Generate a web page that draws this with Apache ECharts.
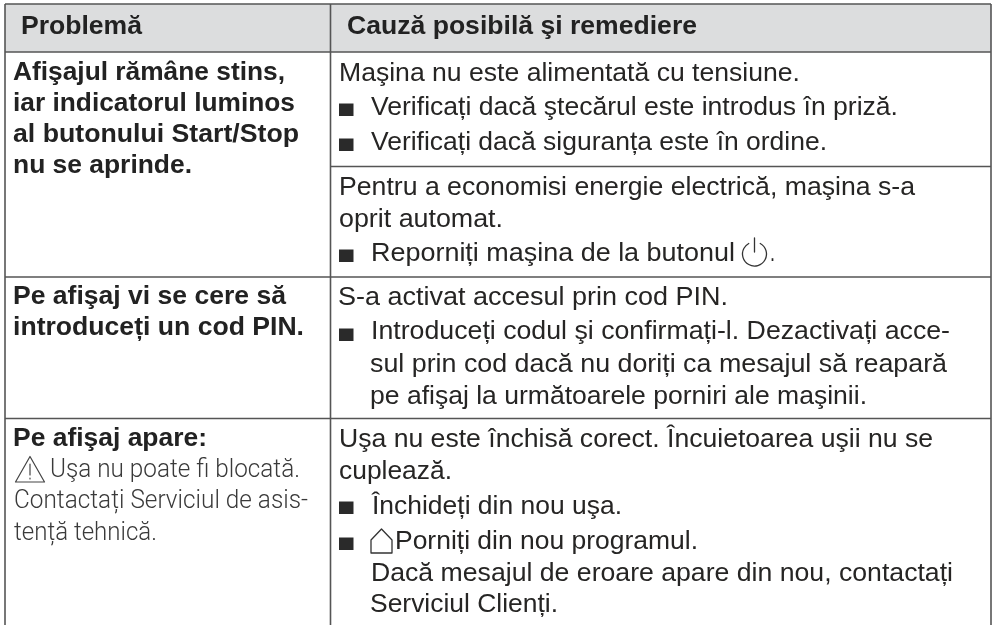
<!DOCTYPE html>
<html><head><meta charset="utf-8">
<style>html,body{margin:0;padding:0;background:#fff}#c{width:993px;height:625px}</style>
<script src="https://cdn.jsdelivr.net/npm/echarts@6/dist/echarts.min.js"></script>
</head><body><div id="c"></div>
<script>
var headers = ["Problemă", "Cauză posibilă şi remediere"];
var problemLines = ["Afişajul rămâne stins,", "iar indicatorul luminos", "al butonului Start/Stop", "nu se aprinde.",
  "Pe afişaj vi se cere să", "introduceți un cod PIN.", "Pe afişaj apare:"];
var messageLines = ["Uşa nu poate fi blocată.", "Contactați Serviciul de asis-", "tență tehnică."];
var causeLines = ["Maşina nu este alimentată cu tensiune.", "Verificați dacă ştecărul este introdus în priză.",
  "Verificați dacă siguranța este în ordine.", "Pentru a economisi energie electrică, maşina s-a", "oprit automat.",
  "Reporniți maşina de la butonul", ".", "S-a activat accesul prin cod PIN.",
  "Introduceți codul şi confirmați-l. Dezactivați acce-", "sul prin cod dacă nu doriți ca mesajul să reapară",
  "pe afişaj la următoarele porniri ale maşinii.", "Uşa nu este închisă corect. Încuietoarea uşii nu se", "cuplează.",
  "Închideți din nou uşa.", "Porniți din nou programul.", "Dacă mesajul de eroare apare din nou, contactați", "Serviciul Clienți."];

// layout lists: [xStart, baseline, xEnd]
var headerPos = [[21, 36, 142], [347, 36, 697]];
var problemPos = [[13,82,285],[13,113,295],[13,144,299],[13,175,192],[13,306,286],[13,337,304],[13,448,207]];
var messagePos = [[50,480,300],[14,511,308],[14,543,157]];
var causePos = [[339,82,800],[371,116,898],[371,151,827],[339,196,915],[339,228,503],[371,262,735],[770,262,775],
  [338,306,728],[371,340,950],[370,373,947],[370,405,867],[339,448,933],[339,480,452],[372,515,622],[395,550,698],[371,582,953],[370,613,558]];
var bulletPos = [[339,116],[339,151],[339,262],[339,341],[339,514],[339,550]];
var rules = [[5,4,991,4],[5,52,991,52],[5,4,5,625],[330.5,4,330.5,625],[991,4,991,625],[331,166.5,991,166.5],[5,277,991,277],[5,418.5,991,418.5]];
var headerBand = [5,4,991,52];

var ink = '#262524', mctx = document.createElement('canvas').getContext('2d');
function textItems(list, pos, size, weight, fam, color, lift) {
  return list.map(function (t, i) { return { t: t, p: pos[i], size: size, weight: weight, fam: fam, color: color, lift: lift }; });
}
var items = [].concat(
  textItems(headers, headerPos, 25, 'bold', 'Liberation Sans', '#222', 0.345),
  textItems(problemLines, problemPos, 25, 'bold', 'Liberation Sans', '#222', 0.345),
  textItems(messageLines, messagePos, 25, '300', 'Roboto', '#3a3a3a', 0.36),
  textItems(causeLines, causePos, 25, 'normal', 'Liberation Sans', ink, 0.31)
);

function renderText(params, api) {
  var it = items[api.value(0)];
  var font = it.weight + ' ' + it.size + 'px "' + it.fam + '"';
  mctx.font = font;
  var w = mctx.measureText(it.t).width;
  var a = api.coord([it.p[0], it.p[1]]), b = api.coord([it.p[2], it.p[1]]);
  return { type: 'text', x: a[0], y: a[1], scaleX: (b[0] - a[0]) / w, silent: true,
    style: { x: 0, y: -it.size * it.lift, text: it.t, font: font, fill: it.color, textAlign: 'left', verticalAlign: 'middle' } };
}
function renderRule(params, api) {
  var a = api.coord([api.value(0), api.value(1)]), b = api.coord([api.value(2), api.value(3)]);
  return { type: 'line', shape: { x1: a[0], y1: a[1], x2: b[0], y2: b[1] }, style: { stroke: '#555', lineWidth: 1.6 }, silent: true };
}
function renderBand(params, api) {
  var a = api.coord([api.value(0), api.value(1)]), b = api.coord([api.value(2), api.value(3)]);
  return { type: 'rect', shape: { x: a[0], y: a[1], width: b[0] - a[0], height: b[1] - a[1] }, style: { fill: '#dcddde' }, silent: true };
}
function renderBullet(params, api) {
  var a = api.coord([api.value(0), api.value(1)]);
  return { type: 'rect', shape: { x: a[0], y: a[1] - 12.5, width: 14.5, height: 12.5 }, style: { fill: '#2a2a2a' }, silent: true };
}
function renderIcons(params, api) {
  var s = { stroke: '#333', fill: null, lineWidth: 1.3, lineJoin: 'round', lineCap: 'round' };
  var w = { stroke: '#444', fill: null, lineWidth: 1.2, lineJoin: 'round', lineCap: 'round' };
  return { type: 'group', silent: true, children: [
    { type: 'polygon', shape: { points: [[30, 456.5], [44.5, 482], [15.5, 482]] }, style: w },
    { type: 'line', shape: { x1: 30, y1: 464, x2: 30, y2: 475 }, style: w },
    { type: 'line', shape: { x1: 30, y1: 478, x2: 30, y2: 479 }, style: w },
    { type: 'arc', shape: { cx: 754.5, cy: 254, r: 12, startAngle: -Math.PI / 2 + 0.5, endAngle: -Math.PI / 2 - 0.5, clockwise: true }, style: s },
    { type: 'line', shape: { x1: 754.5, y1: 238, x2: 754.5, y2: 252 }, style: s },
    { type: 'polygon', shape: { points: [[381.5, 529], [392, 540], [392, 553], [371, 553], [371, 540]] }, style: s }
  ] };
}
var chart = echarts.init(document.getElementById('c'), null, { renderer: 'canvas' });
chart.setOption({
  animation: false,
  backgroundColor: '#fff',
  grid: { left: 0, right: 0, top: 0, bottom: 0 },
  xAxis: { type: 'value', min: 0, max: 993, show: false },
  yAxis: { type: 'value', min: 0, max: 625, inverse: true, show: false },
  tooltip: { show: false },
  series: [
    { type: 'custom', coordinateSystem: 'cartesian2d', renderItem: renderBand, data: [headerBand], z: 1 },
    { type: 'custom', coordinateSystem: 'cartesian2d', renderItem: renderRule, data: rules, z: 2 },
    { type: 'custom', coordinateSystem: 'cartesian2d', renderItem: renderBullet, data: bulletPos, z: 3 },
    { type: 'custom', coordinateSystem: 'cartesian2d', renderItem: renderIcons, data: [[0, 0]], z: 3, clip: false },
    { type: 'custom', coordinateSystem: 'cartesian2d', renderItem: renderText, data: items.map(function (_, i) { return [i]; }), z: 4 }
  ]
});
</script></body></html>
